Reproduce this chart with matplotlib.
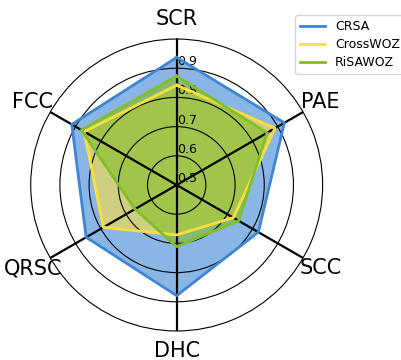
import numpy as np
import matplotlib
matplotlib.use("Agg")
from matplotlib import pyplot as plt

# radar categories, clockwise from the top
categories = ["SCR", "PAE", "SCC", "DHC", "QRSC", "FCC"]

crsa = [0.937, 0.926, 0.823, 0.879, 0.858, 0.915]
crosswoz = [0.842, 0.889, 0.724, 0.671, 0.790, 0.866]
risawoz = [0.873, 0.858, 0.745, 0.711, 0.665, 0.877]

r_ticks = [0.5, 0.6, 0.7, 0.8, 0.9]

series = [("CRSA", crsa, "#3d86d4"),
          ("CrossWOZ", crosswoz, "#ffdf3e"),
          ("RiSAWOZ", risawoz, "#82be28")]


def main():
    n = len(categories)
    angles = np.linspace(0, 2 * np.pi, n, endpoint=False)
    angles_closed = np.concatenate([angles, angles[:1]])

    fig = plt.figure(figsize=(4.01, 3.6), dpi=100)
    ax = fig.add_axes([0.0766, 0.0806, 0.728, 0.811], projection="polar")
    ax.set_theta_offset(np.pi / 2)
    ax.set_theta_direction(-1)

    for name, vals, col in series:
        v = np.concatenate([vals, vals[:1]])
        ax.plot(angles_closed, v, color=col, linewidth=2, label=name)
        ax.fill(angles_closed, v, color=col, alpha=0.6)

    ax.set_ylim(0.5, 1.0)
    ax.set_rgrids(r_ticks, labels=[str(t) for t in r_ticks], fontsize=9)
    ax.set_rlabel_position(0)
    ax.set_xticks(angles)
    ax.set_xticklabels(categories, fontsize=15)
    ax.tick_params(axis="x", pad=4)

    ax.xaxis.grid(True, color="black", linewidth=1.6)
    ax.yaxis.grid(True, color="black", linewidth=0.8)
    ax.spines["polar"].set_color("black")
    ax.spines["polar"].set_linewidth(0.8)

    fig.legend(loc="upper left", bbox_to_anchor=(0.736, 0.958), fontsize=9,
               borderaxespad=0, labelspacing=0.4)
    fig.savefig("out.png", dpi=100)


if __name__ == '__main__':
    main()
